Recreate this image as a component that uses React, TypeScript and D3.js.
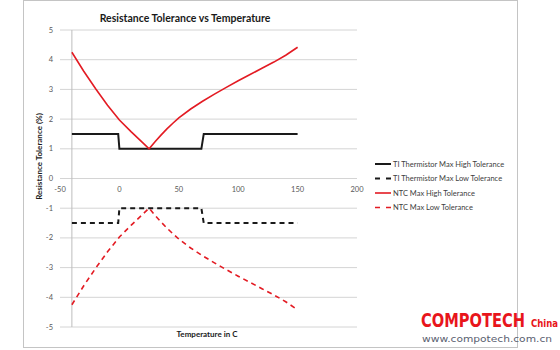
import React from 'react';
import * as d3 from 'd3';

// temperature (C) and tolerance (%)
const tiTemps = [-40, -1, 0, 69, 71, 150];
const tiHigh = [1.5, 1.5, 1, 1, 1.5, 1.5];
const tiLow = [-1.5, -1.5, -1, -1, -1.5, -1.5];

const ntcTemps = [-40, -30, -20, -10, 0, 10, 20, 25, 30, 35, 40, 45, 50, 60, 70, 80, 90, 100, 110, 120, 130, 140, 150];
const ntcHigh = [4.25, 3.61, 3.02, 2.47, 1.97, 1.57, 1.19, 1.0, 1.24, 1.46, 1.67, 1.86, 2.04, 2.34, 2.6, 2.84, 3.07, 3.29, 3.5, 3.71, 3.92, 4.15, 4.42];
const ntcLow = ntcHigh.map(v => -v);

const xTicks = [-50, 0, 50, 100, 150, 200];
const yTicks = [5, 4, 3, 2, 1, 0, -1, -2, -3, -4, -5];

const RED = '#e31b23';
const BLACK = '#1a1a1a';

const seriesList = [
  { name: 'TI Thermistor Max High Tolerance', xs: tiTemps, ys: tiHigh, color: BLACK, width: 2, dash: null },
  { name: 'TI Thermistor Max Low Tolerance', xs: tiTemps, ys: tiLow, color: BLACK, width: 2, dash: '5,4' },
  { name: 'NTC Max High Tolerance', xs: ntcTemps, ys: ntcHigh, color: RED, width: 1.6, dash: null },
  { name: 'NTC Max Low Tolerance', xs: ntcTemps, ys: ntcLow, color: RED, width: 1.6, dash: '5,4' },
];

export default function App() {
  const x = d3.scaleLinear().domain([-50, 200]).range([60, 357]);
  const y = d3.scaleLinear().domain([-5, 5]).range([327, 30]);

  const line = d3.line<[number, number]>()
    .x(d => x(d[0]))
    .y(d => y(d[1]));

  const font = 'Lato, "Open Sans", sans-serif';
  const legendX = 375;
  const legendY = 164;

  return (
    <svg
      width={560}
      height={350}
      style={{ position: 'absolute', left: 0, top: 0, background: '#fff' }}
    >
      <rect x={23.5} y={0.5} width={494} height={347} fill="#fff" stroke="#c4c4c4" />

      <text x={185} y={22} textAnchor="middle" fontFamily={font} fontWeight="bold" fontSize={10.5} fill="#1a1a1a">
        Resistance Tolerance vs Temperature
      </text>

      {/* gridlines */}
      {yTicks.map(t => (
        <line key={t} x1={x(-50)} x2={x(200)} y1={y(t)} y2={y(t)} stroke="#d4d4d4" strokeWidth={1} />
      ))}
      {/* vertical axis */}
      <line x1={x(-40)} x2={x(-40)} y1={y(5)} y2={y(-5)} stroke="#bdbdbd" strokeWidth={1} />

      {yTicks.map(t => (
        <text key={t} x={53} y={y(t) + 2.5} textAnchor="end" fontFamily={font} fontSize={7.5} fill="#595959">
          {t}
        </text>
      ))}
      {xTicks.map(t => (
        <text key={t} x={x(t)} y={y(0) + 13} textAnchor="middle" fontFamily={font} fontSize={7.5} fill="#595959">
          {t}
        </text>
      ))}

      <text
        transform={`translate(42, ${y(0) - 22}) rotate(-90)`}
        textAnchor="middle"
        fontFamily={font}
        fontWeight="bold"
        fontSize={8}
        fill="#1a1a1a"
      >
        Resistance Tolerance (%)
      </text>
      <text x={207} y={337} textAnchor="middle" fontFamily={font} fontWeight="bold" fontSize={8} fill="#1a1a1a">
        Temperature in C
      </text>

      {seriesList.map(s => (
        <path
          key={s.name}
          d={line(s.xs.map((v, i) => [v, s.ys[i]] as [number, number])) || ''}
          fill="none"
          stroke={s.color}
          strokeWidth={s.width}
          strokeDasharray={s.dash || undefined}
        />
      ))}

      {/* legend */}
      {seriesList.map((s, i) => (
        <g key={s.name} transform={`translate(${legendX}, ${legendY + i * 14.5})`}>
          <line
            x1={0}
            x2={16}
            y1={0}
            y2={0}
            stroke={s.color}
            strokeWidth={s.width}
            strokeDasharray={s.dash ? '5,6' : undefined}
          />
          <text x={18} y={2.7} fontFamily={font} fontSize={7.5} fill="#404040">
            {s.name}
          </text>
        </g>
      ))}

      {/* watermark */}
      <text
        x={421}
        y={327}
        fontFamily='"Liberation Sans Narrow", "DejaVu Sans Condensed", sans-serif'
        fontWeight="bold"
        fill="#e8151b"
        fontSize={18}
        transform="translate(421 327) scale(1 1.12) translate(-421 -327)"
      >
        <tspan textLength={104} lengthAdjust="spacingAndGlyphs">COMPOTECH</tspan>
        <tspan x={531} fontSize={9.5}>China</tspan>
      </text>
      <text x={422} y={342} fontFamily="DejaVu Sans, sans-serif" fontSize={9.5} fill="#5a6070" textLength={130} lengthAdjust="spacingAndGlyphs">
        www.compotech.com.cn
      </text>
    </svg>
  );
}
